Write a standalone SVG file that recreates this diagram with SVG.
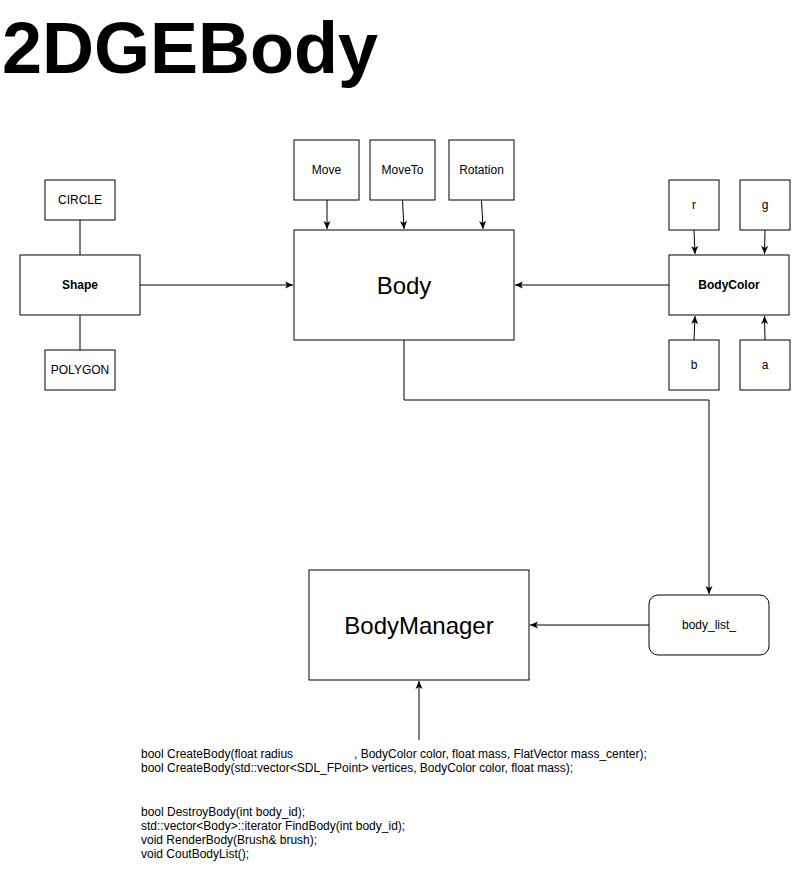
<svg xmlns="http://www.w3.org/2000/svg" width="810" height="880" viewBox="0 0 810 880">
<defs>
<style>
.box{fill:#fff;stroke:#000;stroke-width:1}
.lbl{font-family:"Liberation Sans",Arial,sans-serif;font-size:12px;fill:#000;text-anchor:middle;dominant-baseline:central}
.bold{font-weight:bold}
.big{font-size:24px}
.conn{fill:none;stroke:#000;stroke-width:1}
.code{font-family:"Liberation Sans",Arial,sans-serif;font-size:12px;fill:#000}
</style>
<marker id="arr" viewBox="0 0 8 8" refX="8" refY="4" markerWidth="8" markerHeight="8" markerUnits="userSpaceOnUse" orient="auto">
<path d="M0,0.5 L8,4 L0,7.5 L2,4 Z" fill="#000"/>
</marker>
</defs>
<rect width="810" height="880" fill="#fff"/>
<text x="2" y="73" font-family="'Liberation Sans',Arial,sans-serif" font-size="72" font-weight="bold" fill="#000">2DGEBody</text>

<g id="connectors">
<path class="conn" d="M80,220 V255"/>
<path class="conn" d="M80,315 V350"/>
<path class="conn" d="M140,285 H293" marker-end="url(#arr)"/>
<path class="conn" d="M669,285 H515" marker-end="url(#arr)"/>
<path class="conn" d="M327,200 V229" marker-end="url(#arr)"/>
<path class="conn" d="M402.5,200 L404,229" marker-end="url(#arr)"/>
<path class="conn" d="M481.5,200 L483,229" marker-end="url(#arr)"/>
<path class="conn" d="M694,230 L695,254" marker-end="url(#arr)"/>
<path class="conn" d="M765,230 L764.5,254" marker-end="url(#arr)"/>
<path class="conn" d="M694,340 L695,316" marker-end="url(#arr)"/>
<path class="conn" d="M765,340 L764.5,316" marker-end="url(#arr)"/>
<path class="conn" d="M404,340 V400 H709 V594" marker-end="url(#arr)"/>
<path class="conn" d="M649,625 H530" marker-end="url(#arr)"/>
<path class="conn" d="M419,740 V681" marker-end="url(#arr)"/>
</g>

<g id="circle"><rect class="box" x="45" y="180" width="70" height="40"/><text class="lbl" x="80" y="200">CIRCLE</text></g>
<g id="shape"><rect class="box" x="20" y="255" width="120" height="60"/><text class="lbl bold" x="80" y="285">Shape</text></g>
<g id="polygon"><rect class="box" x="45" y="350" width="70" height="40"/><text class="lbl" x="80" y="370">POLYGON</text></g>

<g id="move"><rect class="box" x="294" y="140" width="65" height="60"/><text class="lbl" x="326.5" y="170">Move</text></g>
<g id="moveto"><rect class="box" x="370" y="140" width="65" height="60"/><text class="lbl" x="402.5" y="170">MoveTo</text></g>
<g id="rotation"><rect class="box" x="449" y="140" width="65" height="60"/><text class="lbl" x="481.5" y="170">Rotation</text></g>

<g id="body"><rect class="box" x="294" y="230" width="220" height="110"/><text class="lbl big" x="404" y="285">Body</text></g>

<g id="r"><rect class="box" x="669" y="180" width="50" height="50"/><text class="lbl" x="694" y="205">r</text></g>
<g id="g"><rect class="box" x="740" y="180" width="50" height="50"/><text class="lbl" x="765" y="205">g</text></g>
<g id="bodycolor"><rect class="box" x="669" y="255" width="120" height="60"/><text class="lbl bold" x="729" y="285">BodyColor</text></g>
<g id="b"><rect class="box" x="669" y="340" width="50" height="50"/><text class="lbl" x="694" y="365">b</text></g>
<g id="a"><rect class="box" x="740" y="340" width="50" height="50"/><text class="lbl" x="765" y="365">a</text></g>

<g id="body_list"><rect class="box" x="649" y="595" width="120" height="60" rx="9" ry="9"/><text class="lbl" x="709" y="625">body_list_</text></g>

<g id="bodymanager"><rect class="box" x="309" y="570" width="220" height="110"/><text class="lbl big" x="419" y="625">BodyManager</text></g>

<g id="methods">
<text class="code" x="141" y="758">bool CreateBody(float radius<tspan x="354">, BodyColor color, float mass, FlatVector mass_center);</tspan></text>
<text class="code" x="141" y="772">bool CreateBody(std::vector&lt;SDL_FPoint&gt; vertices, BodyColor color, float mass);</text>
<text class="code" x="141" y="816">bool DestroyBody(int body_id);</text>
<text class="code" x="141" y="830">std::vector&lt;Body&gt;::iterator FindBody(int body_id);</text>
<text class="code" x="141" y="844">void RenderBody(Brush&amp; brush);</text>
<text class="code" x="141" y="858">void CoutBodyList();</text>
</g>
</svg>
